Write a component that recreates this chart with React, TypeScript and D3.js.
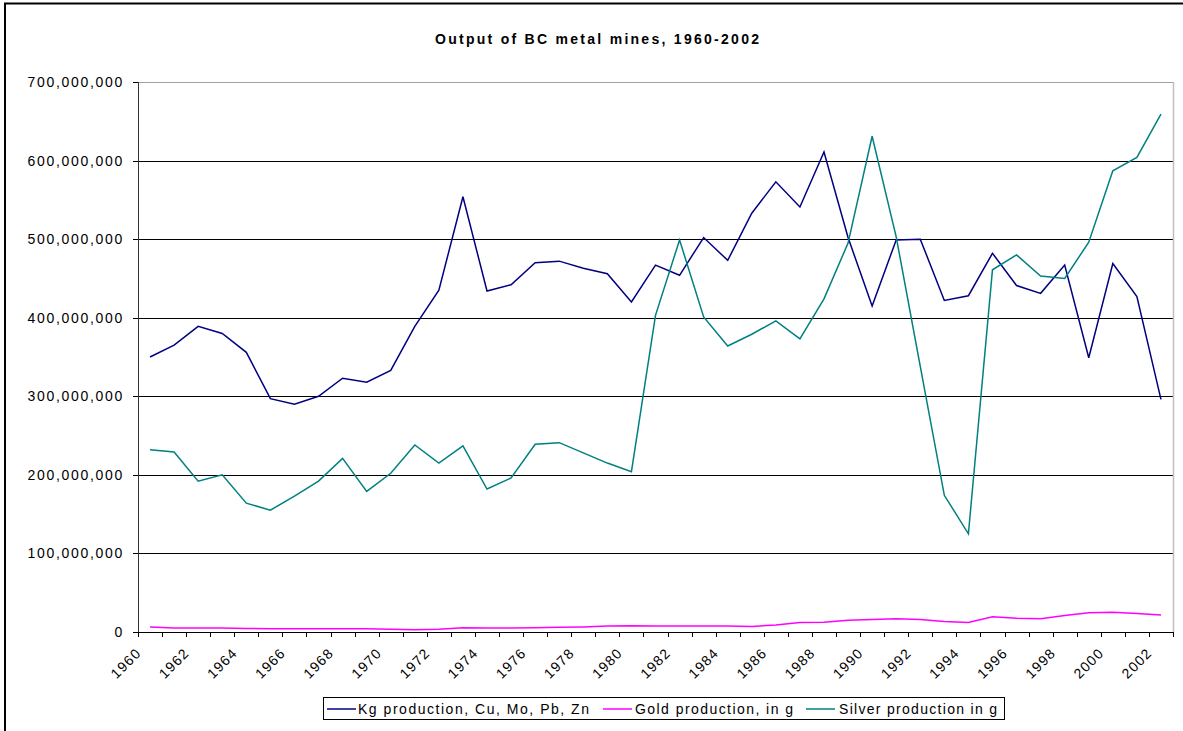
import React from "react";
import * as d3 from "d3";

// Categories (years)
const years: number[] = [
  1960, 1961, 1962, 1963, 1964, 1965, 1966, 1967, 1968, 1969,
  1970, 1971, 1972, 1973, 1974, 1975, 1976, 1977, 1978, 1979,
  1980, 1981, 1982, 1983, 1984, 1985, 1986, 1987, 1988, 1989,
  1990, 1991, 1992, 1993, 1994, 1995, 1996, 1997, 1998, 1999,
  2000, 2001, 2002,
];

// Series values, in millions
const kgProduction: number[] = [
  350, 365, 389, 380, 356, 297, 290, 300, 323, 318,
  333, 389, 435, 554, 434, 442, 470, 472, 463, 456,
  420, 467, 454, 502, 473, 533, 573, 541, 611, 502,
  415, 499, 500, 422, 428, 482, 441, 431, 467, 349,
  469, 427, 296,
];
const goldProduction: number[] = [
  6.5, 5, 5, 5, 4.5, 4, 4, 4, 4, 4,
  3.5, 2.8, 3.5, 5.5, 5, 5, 5.5, 6, 6.5, 7.5,
  8, 7.5, 7.5, 7.5, 7.5, 7, 9, 12, 12.5, 15,
  16, 17, 16, 13.5, 12, 19.5, 17.5, 17, 21, 24.5,
  25, 23.5, 21.5,
];
const silverProduction: number[] = [
  232, 229, 192, 200, 164, 155, 173, 192, 221, 179,
  202, 238, 215, 237, 182, 196, 239, 241, 228, 215,
  204, 403, 499, 401, 364, 379, 396, 373, 424, 495,
  631, 503, 338, 174, 125, 461, 480, 453, 450, 496,
  587, 604, 659,
];

const yTicks: number[] = [0, 100, 200, 300, 400, 500, 600, 700];
const xLabelYears: number[] = [
  1960, 1962, 1964, 1966, 1968, 1970, 1972, 1974, 1976, 1978, 1980,
  1982, 1984, 1986, 1988, 1990, 1992, 1994, 1996, 1998, 2000, 2002,
];

const seriesNames: string[] = [
  "Kg production, Cu, Mo, Pb, Zn",
  "Gold production, in g",
  "Silver production in g",
];
const seriesColors: string[] = ["#000080", "#ff00ff", "#008080"];

const FONT = "'Liberation Sans', Arial, Helvetica, sans-serif";

export default function App() {
  const W = 1183;
  const H = 731;
  const left = 138;
  const right = 1173;
  const top = 82;
  const bottom = 632;

  const x = d3.scaleBand<number>().domain(years).range([left, right]).paddingInner(0).paddingOuter(0);
  const y = d3.scaleLinear().domain([0, 700]).range([bottom, top]);
  const cx = (yr: number) => (x(yr) as number) + x.bandwidth() / 2;

  const line = d3
    .line<number>()
    .x((_, i) => cx(years[i]))
    .y((d) => y(d));

  const series = [kgProduction, goldProduction, silverProduction];
  const fmt = (v: number) => d3.format(",")(v * 1e6);

  const tickXs = [...years.map((yr) => x(yr) as number), right];

  // legend layout
  const legLineX = [327, 603, 806];
  const legTextX = [358, 635, 839];
  const legTextLen = [231, 158, 158];

  return (
    <svg
      width={W}
      height={H}
      style={{ position: "absolute", left: 0, top: 0, background: "#fff" }}
      fontFamily={FONT}
    >
      <rect x={0} y={0} width={W} height={H} fill="#fff" />
      {/* outer frame */}
      <line x1={4} x2={W} y1={3.5} y2={3.5} stroke="#000" strokeWidth={2} />
      <line x1={5} x2={5} y1={3} y2={H} stroke="#000" strokeWidth={2} />

      {/* title */}
      <text
        x={435}
        y={44}
        fontSize={14}
        fontWeight="bold"
        textLength={324}
        lengthAdjust="spacing"
        fill="#000"
      >
        Output of BC metal mines, 1960-2002
      </text>

      {/* gridlines */}
      {yTicks.map((t) => (
        <line
          key={"g" + t}
          x1={left}
          x2={right}
          y1={Math.round(y(t)) + 0.5}
          y2={Math.round(y(t)) + 0.5}
          stroke={t === 700 ? "#a0a0a0" : "#000"}
          strokeWidth={1}
        />
      ))}
      {/* plot area right border */}
      <line x1={right + 0.5} x2={right + 0.5} y1={top} y2={bottom} stroke="#c0c0c0" strokeWidth={1.5} />

      {/* y axis */}
      <line x1={left + 0.5} x2={left + 0.5} y1={top} y2={bottom} stroke="#333" strokeWidth={1} />
      {yTicks.map((t) => (
        <g key={"yt" + t}>
          <line
            x1={left - 5}
            x2={left}
            y1={Math.round(y(t)) + 0.5}
            y2={Math.round(y(t)) + 0.5}
            stroke="#000"
          />
          <text
            x={124}
            y={y(t)}
            dy="0.36em"
            textAnchor="end"
            fontSize={14}
            letterSpacing={1.7}
            fill="#000"
          >
            {fmt(t)}
          </text>
        </g>
      ))}

      {/* x axis */}
      <line x1={left} x2={right + 1} y1={bottom + 0.5} y2={bottom + 0.5} stroke="#000" />
      {tickXs.map((tx, i) => (
        <line
          key={"xt" + i}
          x1={Math.round(tx) + 0.5}
          x2={Math.round(tx) + 0.5}
          y1={bottom}
          y2={bottom + 5}
          stroke="#000"
        />
      ))}
      {xLabelYears.map((yr) => {
        const ax = cx(yr) - 8;
        const ay = bottom + 22;
        return (
          <text
            key={"xl" + yr}
            x={ax}
            y={ay}
            textAnchor="end"
            fontSize={14}
            letterSpacing={1.2}
            fill="#000"
            transform={`rotate(-45 ${ax} ${ay})`}
          >
            {yr}
          </text>
        );
      })}

      {/* lines */}
      {series.map((s, i) => (
        <path
          key={"s" + i}
          d={line(s) || ""}
          fill="none"
          stroke={seriesColors[i]}
          strokeWidth={1.5}
          strokeLinejoin="miter"
        />
      ))}

      {/* legend */}
      <rect x={323.5} y={697.5} width={681} height={22} fill="#fff" stroke="#000" strokeWidth={1} />
      {seriesNames.map((n, i) => (
        <g key={"lg" + i}>
          <line
            x1={legLineX[i]}
            x2={legLineX[i] + 29}
            y1={709}
            y2={709}
            stroke={seriesColors[i]}
            strokeWidth={1.5}
          />
          <text
            x={legTextX[i]}
            y={709}
            dy="0.36em"
            fontSize={14}
            textLength={legTextLen[i]}
            lengthAdjust="spacing"
            fill="#000"
          >
            {n}
          </text>
        </g>
      ))}
    </svg>
  );
}
